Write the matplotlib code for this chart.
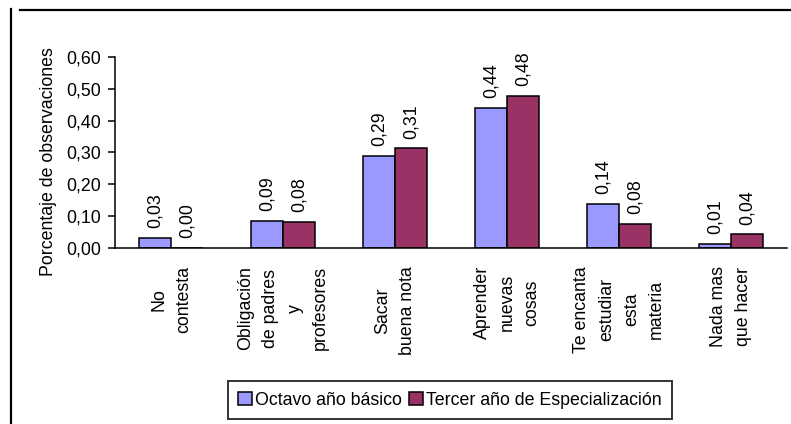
"""Bar chart: motivos para estudiar, octavo básico vs tercer año."""
import matplotlib
matplotlib.use("Agg")
import matplotlib.pyplot as plt
from matplotlib.lines import Line2D
from matplotlib.ticker import FuncFormatter, MultipleLocator
import numpy as np

plt.rcParams["font.family"] = ["Liberation Sans", "DejaVu Sans"]

CATEGORIES = [
    "No\ncontesta",
    "Obligación\nde padres\ny\nprofesores",
    "Sacar\nbuena nota",
    "Aprender\nnuevas\ncosas",
    "Te encanta\nestudiar\nesta\nmateria",
    "Nada mas\nque hacer",
]
OCTAVO = [0.032, 0.086, 0.290, 0.441, 0.139, 0.012]
TERCERO = [0.000, 0.083, 0.313, 0.478, 0.076, 0.043]
SERIES_NAMES = ["Octavo año básico", "Tercer año de Especialización"]
Y_LABEL = "Porcentaje de observaciones"

BLUE = "#9999FF"
PLUM = "#993366"
FS = 12.8


def comma(v, _pos=None):
    return f"{v:.2f}".replace(".", ",")


def main() -> None:
    fig = plt.figure(figsize=(7.91, 4.24), dpi=100)
    ax = fig.add_axes([0.1454, 0.4151, 0.8496, 0.4505])

    x = np.arange(len(CATEGORIES))
    w = 0.2857
    b1 = ax.bar(x - w / 2, OCTAVO, width=w, color=BLUE, edgecolor="black",
                linewidth=1.1, label=SERIES_NAMES[0])
    b2 = ax.bar(x + w / 2, TERCERO, width=w, color=PLUM, edgecolor="black",
                linewidth=1.1, label=SERIES_NAMES[1])

    for bars, vals in ((b1, OCTAVO), (b2, TERCERO)):
        for rect, v in zip(bars, vals):
            ax.annotate(comma(v), (rect.get_x() + rect.get_width() / 2, v),
                        xytext=(0, 7), textcoords="offset points",
                        rotation=90, ha="center", va="bottom", fontsize=FS)

    ax.set_xlim(-0.5, len(CATEGORIES) - 0.5)
    ax.set_ylim(0, 0.6)
    ax.yaxis.set_major_locator(MultipleLocator(0.1))
    ax.yaxis.set_major_formatter(FuncFormatter(comma))
    ax.tick_params(axis="y", length=5, width=1.1, pad=5, labelsize=FS)
    ax.set_xticks(x)
    ax.set_xticklabels(CATEGORIES, rotation=90, ha="center", va="top",
                       multialignment="center", linespacing=1.6, fontsize=FS)
    ax.tick_params(axis="x", length=0, pad=13)

    for side in ("top", "right"):
        ax.spines[side].set_visible(False)
    for side in ("left", "bottom"):
        ax.spines[side].set_linewidth(1.1)

    ax.set_ylabel(Y_LABEL, fontsize=FS)
    ax.yaxis.set_label_coords(-0.086, 0.45)

    leg = fig.legend(loc="center", bbox_to_anchor=(0.569, 0.0566), ncol=2,
                     fontsize=FS, frameon=True, fancybox=False,
                     edgecolor="black", handlelength=0.75, handleheight=0.75,
                     handletextpad=0.2, columnspacing=0.4, borderpad=0.6)
    leg.get_frame().set_linewidth(1.4)

    # outer chart-area border (only top and left edges show)
    fig.add_artist(Line2D([20 / 791, 1], [1 - 10 / 424] * 2,
                          transform=fig.transFigure, color="black", lw=1.6))
    fig.add_artist(Line2D([11 / 791] * 2, [0, 1 - 9 / 424],
                          transform=fig.transFigure, color="black", lw=1.6))

    fig.savefig("out.png", dpi=100)


if __name__ == "__main__":
    main()
